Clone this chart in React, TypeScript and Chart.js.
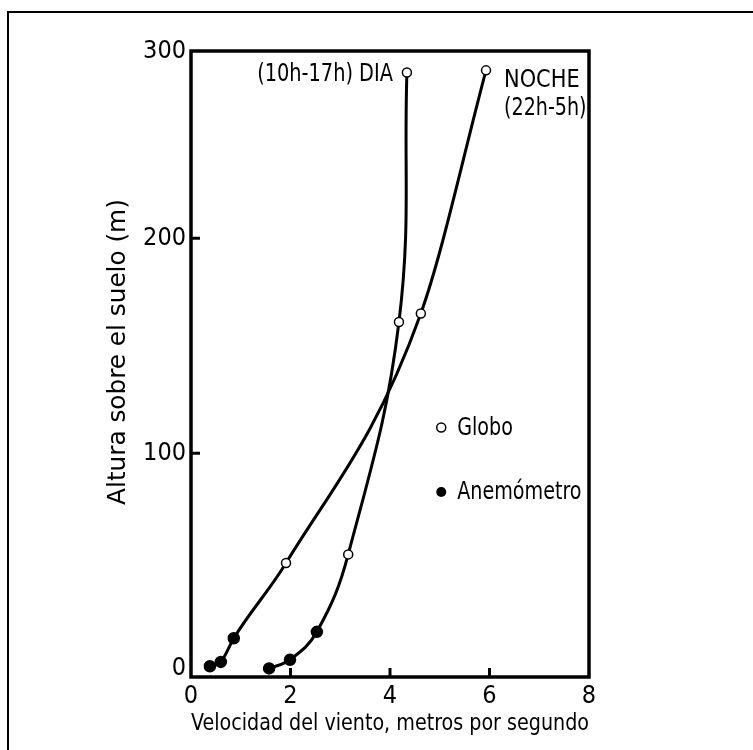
import React, { useEffect, useRef } from 'react';
import { Chart, registerables } from 'chart.js';

Chart.register(...registerables);

const FONT = "'DejaVu Sans Condensed', 'Liberation Sans Narrow', 'Liberation Sans', sans-serif";

// Día (10h-17h): velocidad (m/s) y altura (m)
const daySpeed = [1.57, 1.99, 2.53, 3.16, 4.18, 4.34];
const dayHeight = [0, 4, 17, 53, 161, 277];
const dayInstrument = ['anem', 'anem', 'anem', 'globo', 'globo', 'globo'];

// Noche (22h-5h)
const nightSpeed = [0.38, 0.6, 0.86, 1.91, 4.62, 5.93];
const nightHeight = [1, 3, 14, 49, 165, 278];
const nightInstrument = ['anem', 'anem', 'anem', 'globo', 'globo', 'globo'];

const xTickValues = [0, 2, 4, 6, 8];
const xTickLabels = ['0', '2', '4', '6', '8'];
const yTickValues = [0, 100, 200, 287];
const yTickLabels = ['0', '100', '200', '300'];
const innerXTicks = [2, 4, 6];
const innerYTicks = [100, 200];

const xTitle = 'Velocidad del viento, metros por segundo';
const yTitle = 'Altura sobre el suelo (m)';
const dayLabel = '(10h-17h) DIA';
const nightLabel = ['NOCHE', '(22h-5h)'];
const legendLabels = ['Globo', 'Anemómetro'];
const legendSpeed = 5.03;
const legendHeights = [112, 82];

const pointsOf = (xs: number[], ys: number[]) => xs.map((x, i) => ({ x, y: ys[i] }));

// draw text horizontally condensed / stretched by factor sx
const drawText = (ctx: any, text: string, x: number, y: number, align: string, sx: number) => {
  ctx.save();
  ctx.translate(x, y);
  ctx.scale(sx, 1);
  ctx.textAlign = align;
  ctx.fillText(text, 0, 0);
  ctx.restore();
};

const decorPlugin = {
  id: 'decor',
  afterDraw(chart: any) {
    const { ctx, chartArea: a, scales } = chart;
    const xs = scales.x;
    const ys = scales.y;
    ctx.save();
    ctx.strokeStyle = '#000';
    ctx.fillStyle = '#000';
    // outer frame (top and left)
    ctx.lineWidth = 2;
    ctx.beginPath();
    ctx.moveTo(8, 750);
    ctx.lineTo(8, 12);
    ctx.lineTo(753, 12);
    ctx.stroke();
    // plot frame
    ctx.lineWidth = 3.5;
    ctx.strokeRect(a.left, a.top, a.right - a.left, a.bottom - a.top);
    // inward ticks
    ctx.lineWidth = 3;
    ctx.beginPath();
    innerXTicks.forEach((v) => {
      const px = xs.getPixelForValue(v);
      ctx.moveTo(px, a.bottom);
      ctx.lineTo(px, a.bottom - 9);
    });
    innerYTicks.forEach((v) => {
      const py = ys.getPixelForValue(v);
      ctx.moveTo(a.left, py);
      ctx.lineTo(a.left + 9, py);
    });
    ctx.stroke();

    // annotations
    ctx.font = `25px ${FONT}`;
    ctx.textBaseline = 'middle';
    const dx = xs.getPixelForValue(daySpeed[daySpeed.length - 1]);
    const dy = ys.getPixelForValue(dayHeight[dayHeight.length - 1]);
    drawText(ctx, dayLabel, dx - 14, dy + 2, 'right', 0.86);
    const nx = xs.getPixelForValue(nightSpeed[nightSpeed.length - 1]);
    const ny = ys.getPixelForValue(nightHeight[nightHeight.length - 1]);
    drawText(ctx, nightLabel[0], nx + 18, ny + 10, 'left', 0.93);
    drawText(ctx, nightLabel[1], nx + 18, ny + 38, 'left', 0.85);

    // legend
    const lx = xs.getPixelForValue(legendSpeed);
    legendLabels.forEach((lab, i) => {
      const ly = ys.getPixelForValue(legendHeights[i]);
      ctx.beginPath();
      if (i === 0) {
        ctx.lineWidth = 1.5;
        ctx.fillStyle = '#fff';
        ctx.arc(lx, ly, 4.5, 0, Math.PI * 2);
        ctx.fill();
        ctx.stroke();
      } else {
        ctx.fillStyle = '#000';
        ctx.arc(lx, ly, 5, 0, Math.PI * 2);
        ctx.fill();
      }
      ctx.fillStyle = '#000';
      drawText(ctx, lab, lx + 16, ly + 1, 'left', 0.85);
    });

    // y title
    ctx.save();
    ctx.translate(118, 352);
    ctx.rotate(-Math.PI / 2);
    ctx.font = `25px ${FONT}`;
    drawText(ctx, yTitle, 0, 0, 'center', 1.1);
    ctx.restore();
    ctx.restore();
  },
};

export default function App() {
  const ref = useRef<HTMLCanvasElement | null>(null);
  useEffect(() => {
    if (!ref.current) return;
    const styleFor = (inst: string[]) => ({
      pointBackgroundColor: inst.map((s) => (s === 'globo' ? '#fff' : '#000')),
      pointRadius: inst.map((s) => (s === 'globo' ? 4.5 : 5.5)),
      pointBorderWidth: 1.5,
      pointBorderColor: '#000',
    });
    const chart = new Chart(ref.current, {
      type: 'line',
      data: {
        datasets: [
          {
            label: 'DIA',
            data: pointsOf(daySpeed, dayHeight),
            borderColor: '#000',
            borderWidth: 3,
            tension: 0.4,
            fill: false,
            ...styleFor(dayInstrument),
          },
          {
            label: 'NOCHE',
            data: pointsOf(nightSpeed, nightHeight),
            borderColor: '#000',
            borderWidth: 3,
            cubicInterpolationMode: 'monotone',
            fill: false,
            ...styleFor(nightInstrument),
          },
        ],
      },
      options: {
        animation: false,
        responsive: false,
        layout: { padding: { left: 0, top: 51, right: 164, bottom: 0 } },
        plugins: { legend: { display: false }, tooltip: { enabled: false } },
        scales: {
          x: {
            type: 'linear',
            min: 0,
            max: 8,
            grid: { display: false, drawTicks: false, tickLength: 0 },
            border: { display: false },
            afterFit: (s: any) => { s.height = 73; },
            afterBuildTicks: (s: any) => { s.ticks = xTickValues.map((v) => ({ value: v })); },
            ticks: {
              color: '#000',
              padding: 4,
              font: { family: FONT, size: 25 },
              callback: (_v: any, i: number) => xTickLabels[i],
            },
            title: {
              display: true,
              text: xTitle,
              color: '#000',
              font: { family: FONT, size: 23.5 },
              padding: { top: 0, bottom: 12 },
            },
          },
          y: {
            type: 'linear',
            min: -4,
            max: 287,
            grid: { display: false, drawTicks: false, tickLength: 0 },
            border: { display: false },
            afterFit: (s: any) => { s.width = 191; },
            afterBuildTicks: (s: any) => { s.ticks = yTickValues.map((v) => ({ value: v })); },
            ticks: {
              color: '#000',
              padding: 5,
              font: { family: FONT, size: 25 },
              callback: (_v: any, i: number) => yTickLabels[i],
            },
          },
        },
      },
      plugins: [decorPlugin],
    } as any);
    return () => chart.destroy();
  }, []);
  return (
    <div style={{ position: 'fixed', left: 0, top: 0, width: 753, height: 750, background: '#fff' }}>
      <canvas ref={ref} width={753} height={750} style={{ display: 'block' }} />
    </div>
  );
}
